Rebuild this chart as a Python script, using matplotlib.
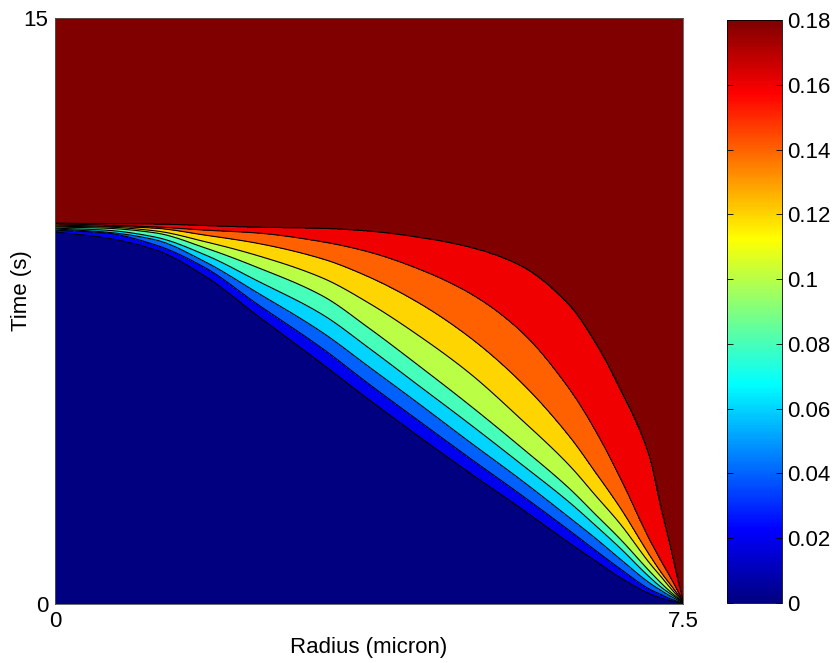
import numpy as np
import matplotlib
matplotlib.use("Agg")
import matplotlib.pyplot as plt
from matplotlib.colors import Normalize, ListedColormap
from matplotlib.cm import ScalarMappable
from matplotlib.ticker import FuncFormatter

plt.rcParams['font.family'] = ['Liberation Sans', 'DejaVu Sans']

# ---- data ----
# radii (micron) at which the contour crossing times were read
radius = [0, 0.6, 1.2, 1.8, 2.4, 3.2, 3.75, 4.35, 4.95, 5.55, 6.15, 6.45, 6.75, 7.1, 7.25, 7.35, 7.5]

# contour levels (concentration)
conc_levels = [0.02, 0.04, 0.06, 0.08, 0.10, 0.12, 0.14, 0.16, 0.18]

# time (s) at which concentration reaches each level, per radius
t_002 = [9.52, 9.37, 9.06, 8.37, 7.40, 6.12, 5.22, 4.27, 3.35, 2.46, 1.54, 1.10, 0.67, 0.26, 0.14, 0.08, 0.01]
t_004 = [9.57, 9.50, 9.19, 8.60, 7.70, 6.53, 5.63, 4.68, 3.74, 2.82, 1.87, 1.38, 0.90, 0.38, 0.23, 0.13, 0.02]
t_006 = [9.60, 9.52, 9.32, 8.75, 7.99, 6.94, 6.07, 5.12, 4.15, 3.20, 2.20, 1.69, 1.15, 0.54, 0.33, 0.20, 0.03]
t_008 = [9.62, 9.57, 9.39, 8.93, 8.29, 7.40, 6.55, 5.58, 4.61, 3.61, 2.59, 2.02, 1.43, 0.69, 0.41, 0.26, 0.04]
t_010 = [9.65, 9.62, 9.50, 9.11, 8.63, 7.88, 7.06, 6.09, 5.09, 4.04, 2.94, 2.30, 1.66, 0.84, 0.51, 0.31, 0.05]
t_012 = [9.67, 9.65, 9.55, 9.27, 8.93, 8.34, 7.70, 6.86, 5.91, 4.76, 3.53, 2.79, 2.05, 1.05, 0.67, 0.41, 0.06]
t_014 = [9.70, 9.67, 9.62, 9.44, 9.24, 8.83, 8.37, 7.70, 6.83, 5.71, 4.27, 3.38, 2.46, 1.25, 0.77, 0.49, 0.07]
t_016 = [9.73, 9.70, 9.65, 9.57, 9.50, 9.27, 9.01, 8.57, 7.96, 7.01, 5.48, 4.45, 3.22, 1.64, 1.05, 0.67, 0.08]
t_018 = [9.75, 9.74, 9.73, 9.69, 9.65, 9.62, 9.55, 9.39, 9.14, 8.68, 7.65, 6.73, 5.53, 3.81, 2.41, 1.51, 0.09]

level_times = [t_002, t_004, t_006, t_008, t_010, t_012, t_014, t_016, t_018]

cbar_ticks = [0, 0.02, 0.04, 0.06, 0.08, 0.10, 0.12, 0.14, 0.16, 0.18]
band_bounds = [0, 0.02, 0.04, 0.06, 0.08, 0.10, 0.12, 0.14, 0.16, 0.18, 0.20]
c_min, c_max = 0.0, 0.18
r_max, t_max = 7.5, 15


def matlab_jet(n=256):
    x = np.linspace(0, 1, n)
    r = np.clip(np.minimum(4 * x - 1.5, -4 * x + 4.5), 0, 1)
    g = np.clip(np.minimum(4 * x - 0.5, -4 * x + 3.5), 0, 1)
    b = np.clip(np.minimum(4 * x + 0.5, -4 * x + 2.5), 0, 1)
    return ListedColormap(np.column_stack([r, g, b]), name='mjet')


def pchip(x, y, xn):
    """Monotone piecewise cubic (Fritsch-Carlson) through the read points."""
    x = np.asarray(x, float)
    y = np.asarray(y, float)
    h = np.diff(x)
    d = np.diff(y) / h
    m = np.zeros_like(y)
    for k in range(1, len(x) - 1):
        if d[k - 1] * d[k] > 0:
            w1 = 2 * h[k] + h[k - 1]
            w2 = h[k] + 2 * h[k - 1]
            m[k] = (w1 + w2) / (w1 / d[k - 1] + w2 / d[k])
    m[0] = d[0]
    m[-1] = d[-1]
    idx = np.clip(np.searchsorted(x, xn) - 1, 0, len(x) - 2)
    hh = h[idx]
    s = (xn - x[idx]) / hh
    h00 = 2 * s**3 - 3 * s**2 + 1
    h10 = s**3 - 2 * s**2 + s
    h01 = -2 * s**3 + 3 * s**2
    h11 = s**3 - s**2
    return h00 * y[idx] + h10 * hh * m[idx] + h01 * y[idx + 1] + h11 * hh * m[idx + 1]


# ---- build field on a fine grid from the read curves ----
rf = np.linspace(0, r_max, 600)
tf = np.linspace(0, t_max, 1800)
curves = np.array([pchip(radius, tk, rf) for tk in level_times])
curves = np.maximum.accumulate(curves, axis=0) + np.arange(len(conc_levels))[:, None] * 1e-6
Z = np.empty((tf.size, rf.size))
for j in range(rf.size):
    Z[:, j] = np.interp(tf, curves[:, j], conc_levels, left=0.01, right=0.19)

W, H = 834, 663
fig = plt.figure(figsize=(W / 100, H / 100), dpi=100)
ax = fig.add_axes([55 / W, 1 - 604 / H, 628 / W, 586 / H])
cax = fig.add_axes([727 / W, 1 - 603 / H, 55 / W, 583 / H])

cmap = matlab_jet(256)
norm = Normalize(c_min, c_max)
band_colors = [cmap(norm(b)) for b in band_bounds[:-1]]

ax.contourf(rf, tf, Z, levels=band_bounds, colors=band_colors)
ax.contour(rf, tf, Z, levels=conc_levels, colors='k', linewidths=0.8)

ax.set_xlim(0, r_max)
ax.set_ylim(0, t_max)
ax.set_xticks([0, r_max])
ax.set_xticklabels(['0', '7.5'])
ax.set_yticks([0, t_max])
ax.set_yticklabels(['0', '15'])
ax.tick_params(length=0, labelsize=16, pad=5)
ax.set_xlabel('Radius (micron)', fontsize=16, labelpad=4)
ax.set_ylabel('Time (s)', fontsize=16)
ax.yaxis.set_label_coords(-0.036, 0.535)
for s in ax.spines.values():
    s.set_linewidth(0.6)
    s.set_color('#555555')

sm = ScalarMappable(norm=norm, cmap=cmap)
cb = fig.colorbar(sm, cax=cax, ticks=cbar_ticks)
cb.ax.yaxis.set_major_formatter(FuncFormatter(lambda v, p: f"{v:g}"))
cb.ax.tick_params(labelsize=16, direction='in', length=4, width=0.6, left=True, right=True, pad=4)
cb.outline.set_linewidth(0.6)

fig.savefig('out.png', dpi=100)
